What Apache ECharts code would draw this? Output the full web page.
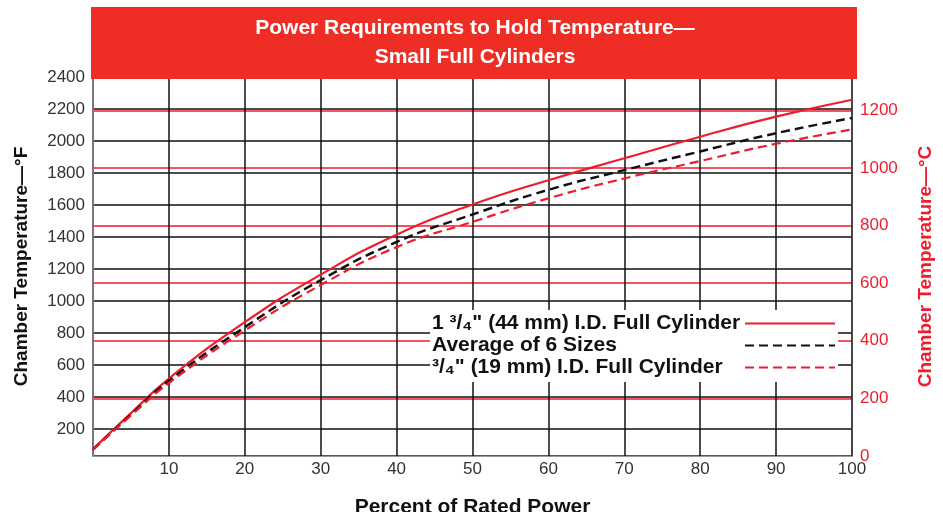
<!DOCTYPE html>
<html lang="en">
<head>
    <meta charset="UTF-8">
    <title>Power Requirements to Hold Temperature</title>
    <script src="https://cdn.jsdelivr.net/npm/echarts@6/dist/echarts.min.js"></script>
    <style>
        body { margin: 0; background: #fff; }
    </style>
</head>
<body>
<div id="main" style="width: 943px;height:512px;"></div>
<script>
    // percent of rated power
    var power = [0, 5, 10, 20, 30, 40, 50, 60, 70, 80, 90, 100];
    // chamber temperature in degrees F
    var large = [75, 300, 516, 868, 1165, 1415, 1603, 1755, 1892, 2027, 2152, 2258];
    var average = [72, 290, 502, 837, 1131, 1369, 1541, 1695, 1818, 1935, 2049, 2144];
    var small = [72, 285, 487, 816, 1100, 1337, 1495, 1642, 1766, 1875, 1983, 2072];
    var names = ['1 ³/₄" (44 mm) I.D. Full Cylinder', 'Average of 6 Sizes', '³/₄" (19 mm) I.D. Full Cylinder'];
    var titleLines = ['Power Requirements to Hold Temperature—', 'Small Full Cylinders'];

    var red = '#ee1d2e';
    var font = 'Liberation Sans';

    function pairs(ys) {
        var res = [];
        for (var i = 0; i < power.length; i++) {
            res.push([power[i], ys[i]]);
        }
        return res;
    }
    function plain(v) {
        return String(Math.round(v));
    }

    var myChart = echarts.init(document.getElementById('main'));

    var option = {
        backgroundColor: '#fff',
        animation: false,
        textStyle: { fontFamily: font },
        grid: { left: 93, right: 91, top: 77, bottom: 56, outerBoundsMode: 'none', containLabel: false },
        graphic: [
            { type: 'rect', z: 100, shape: { x: 91, y: 7, width: 766, height: 72 }, style: { fill: '#ee2e24' } },
            { type: 'text', z: 101, x: 475, y: 28, style: { text: titleLines[0], fill: '#fff', font: 'bold 21px "Liberation Sans"', textAlign: 'center', textVerticalAlign: 'middle' } },
            { type: 'text', z: 101, x: 475, y: 57, style: { text: titleLines[1], fill: '#fff', font: 'bold 21px "Liberation Sans"', textAlign: 'center', textVerticalAlign: 'middle' } }
        ],
        legend: {
            orient: 'vertical',
            left: 430,
            top: 310,
            align: 'right',
            backgroundColor: '#fff',
            padding: [3, 2, 4, 2],
            itemWidth: 90,
            itemHeight: 14,
            itemGap: 1,
            data: names,
            itemStyle: { opacity: 0 },
            formatter: '{t|{name}}',
            textStyle: {
                rich: {
                    t: { width: 308, align: 'left', fontFamily: font, fontSize: 21, lineHeight: 21, fontWeight: 'bold', color: '#111' }
                }
            }
        },
        xAxis: {
            type: 'value',
            min: 0,
            max: 100,
            interval: 10,
            name: 'Percent of Rated Power',
            nameLocation: 'middle',
            nameGap: 41,
            nameTextStyle: { fontSize: 21, fontWeight: 'bold', color: '#111' },
            axisLine: { lineStyle: { color: '#999', width: 1 } },
            axisTick: { show: false },
            axisLabel: { showMinLabel: false, fontSize: 17, color: '#333', margin: 5, formatter: plain },
            splitLine: { lineStyle: { color: '#111', width: 1.5 } }
        },
        yAxis: [
            {
                type: 'value',
                min: 32,
                max: 2400,
                splitNumber: 12,
                name: 'Chamber Temperature—°F',
                nameLocation: 'middle',
                nameRotate: 90,
                nameGap: 62,
                nameTextStyle: { fontSize: 19, fontWeight: 'bold', color: '#111' },
                axisLine: { show: true, lineStyle: { color: '#777', width: 2 } },
                axisTick: { show: false },
                axisLabel: { showMinLabel: false, fontSize: 17, color: '#333', margin: 8, formatter: plain },
                splitLine: { lineStyle: { color: '#111', width: 1.5 } }
            },
            {
                type: 'value',
                position: 'right',
                min: 0,
                max: (2400 - 32) / 1.8,
                splitNumber: 7,
                name: 'Chamber Temperature—°C',
                nameLocation: 'middle',
                nameRotate: 90,
                nameGap: 64,
                nameTextStyle: { fontSize: 19, fontWeight: 'bold', color: red },
                axisLine: { show: true, lineStyle: { color: '#444', width: 1.5 } },
                axisTick: { show: false },
                axisLabel: { showMaxLabel: false, fontSize: 17, color: red, margin: 8, formatter: plain },
                splitLine: { lineStyle: { color: red, width: 1.6 } }
            }
        ],
        series: [
            {
                name: names[0],
                type: 'line',
                smooth: true,
                symbol: 'none',
                data: pairs(large),
                lineStyle: { color: red, width: 2.2, type: 'solid' },
                itemStyle: { color: red }
            },
            {
                name: names[1],
                type: 'line',
                smooth: true,
                symbol: 'none',
                data: pairs(average),
                lineStyle: { color: '#111', width: 2.5, type: [9, 5] },
                itemStyle: { color: '#111' }
            },
            {
                name: names[2],
                type: 'line',
                smooth: true,
                symbol: 'none',
                data: pairs(small),
                lineStyle: { color: red, width: 2.2, type: [9, 5] },
                itemStyle: { color: red }
            }
        ]
    };

    myChart.setOption(option);
</script>
</body>
</html>
